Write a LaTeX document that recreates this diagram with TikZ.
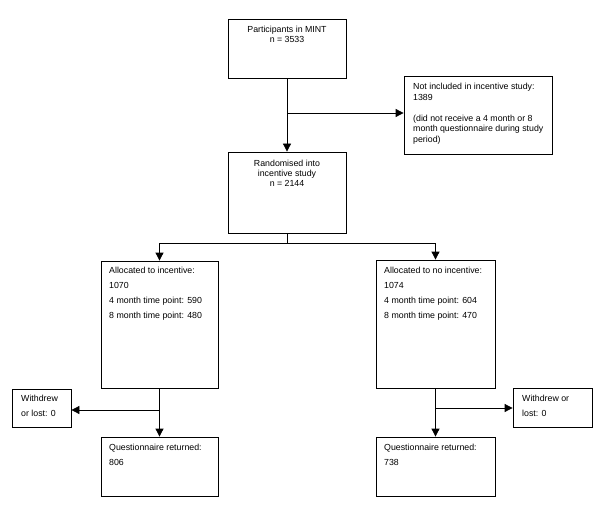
\documentclass[tikz,border=0pt]{standalone}
\usepackage{fontspec}
\setmainfont{Liberation Sans}
\usetikzlibrary{arrows.meta}
\begin{document}
\begin{tikzpicture}[x=1pt,y=-1pt,
  box/.style={draw=black,line width=0.8pt,rectangle,inner sep=0pt},
  arr/.style={draw=black,line width=0.8pt,-{Triangle[length=8pt,width=8pt]}},
  ln/.style={draw=black,line width=0.8pt},
  ctext/.style={inner sep=0pt,anchor=north,align=center,font=\fontsize{8.8}{10.2}\selectfont},
  ltext/.style={inner sep=0pt,anchor=north west,align=left,font=\fontsize{8.8}{10.5}\selectfont},
  wtext/.style={inner sep=0pt,anchor=north west,align=left,font=\fontsize{8.8}{15}\selectfont}]
\useasboundingbox (0,0) rectangle (600,508);
% boxes
\node[box,minimum width=118,minimum height=59] (b1) at (287,48.5) {};
\node[box,minimum width=148,minimum height=78] (b2) at (478,115) {};
\node[box,minimum width=118,minimum height=81] (b3) at (287,192.5) {};
\node[box,minimum width=117,minimum height=127] (b4) at (159.5,324.5) {};
\node[box,minimum width=117,minimum height=59] (b5) at (159.5,466.5) {};
\node[box,minimum width=119,minimum height=128] (b6) at (435.5,324) {};
\node[box,minimum width=119,minimum height=59] (b7) at (435.5,466.5) {};
\node[box,minimum width=59,minimum height=38] (wl) at (41.5,408) {};
\node[box,minimum width=79,minimum height=39] (wr) at (552.5,407.5) {};
% texts
\node[ctext] (t1) at (287,26) {Participants in MINT\\n = 3533};
\node[ltext] (t2) at (413,83) {Not included in incentive study:\\1389\\[10.5pt](did not receive a 4 month or 8\\month questionnaire during study\\period)};
\node[ctext] (t3) at (287,160) {Randomised into\\incentive study\\n = 2144};
\node[wtext] (t4) at (109,267) {Allocated to incentive:\\1070\\4 month time point: 590\\8 month time point: 480};
\node[wtext] (t6) at (384,267) {Allocated to no incentive:\\1074\\4 month time point: 604\\8 month time point: 470};
\node[wtext] (t5) at (109,444) {Questionnaire returned:\\806};
\node[wtext] (t7) at (384,444) {Questionnaire returned:\\738};
\node[wtext] (twl) at (21,395) {Withdrew\\or lost: 0};
\node[wtext] (twr) at (522,395) {Withdrew or\\lost: 0};
% connectors
\coordinate (c1) at (287,113);
\draw[arr] (b1.south) -- (b3.north);
\draw[arr] (c1) -- (c1 -| b2.west);
\coordinate (c2) at (287,243);
\draw[ln] (b3.south) -- (c2);
\draw[arr] (c2) -| (b4.north);
\draw[arr] (c2) -| (b6.north);
\coordinate (c3) at (159.5,410);
\draw[arr] (b4.south) -- (b5.north);
\draw[arr] (c3) -- (c3 -| wl.east);
\coordinate (c4) at (435.5,408);
\draw[arr] (b6.south) -- (b7.north);
\draw[arr] (c4) -- (c4 -| wr.west);
\end{tikzpicture}
\end{document}
